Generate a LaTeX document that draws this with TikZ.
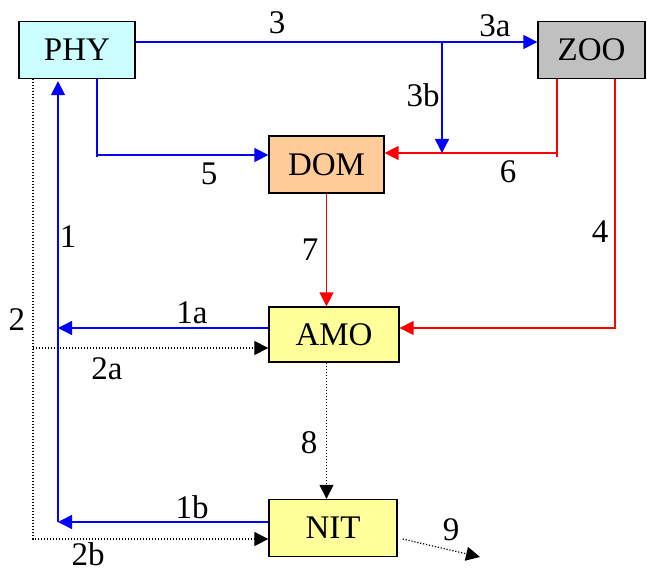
\documentclass[tikz,border=0pt]{standalone}
\usepackage{fontspec}
\setmainfont{Liberation Serif}
\usepackage{xcolor}
\definecolor{sbblue}{RGB}{0,0,255}
\definecolor{sbred}{RGB}{255,0,0}
\definecolor{sbcyan}{RGB}{204,255,255}
\definecolor{sbgray}{RGB}{192,192,192}
\definecolor{sbpeach}{RGB}{255,204,153}
\definecolor{sbyellow}{RGB}{255,255,153}
\usetikzlibrary{arrows.meta,positioning,calc}

\begin{document}
\begin{tikzpicture}[
  x=1pt, y=-1pt,
  sector/.style={
    rectangle, draw=black, line width=1.3pt,
    minimum height=57pt, inner sep=0pt,
    font=\fontsize{33}{37}\selectfont
  },
  tag/.style={font=\fontsize{33}{37}\selectfont, inner sep=0pt},
  flowblue/.style={-{Triangle[length=14pt,width=14pt]}, line width=1.4pt, draw=sbblue},
  flowred/.style={-{Triangle[length=14pt,width=14pt]}, line width=1.4pt, draw=sbred},
  flowdot/.style={-{Triangle[length=14pt,width=14pt]}, line width=1.2pt, draw=black,
    dash pattern=on 1.2pt off 1.8pt}
]
\useasboundingbox (0,0) rectangle (647,572);

\node[sector, fill=sbcyan,   minimum width=116pt] (phy) at (77,50)    {PHY};
\node[sector, fill=sbgray,   minimum width=107pt] (zoo) at (591.5,50) {ZOO};
\node[sector, fill=sbpeach,  minimum width=115pt] (dom) at (326.5,164.5) {DOM};
\node[sector, fill=sbyellow, minimum width=130pt, minimum height=55pt] (amo) at (334,334.5) {AMO};
\node[sector, fill=sbyellow, minimum width=128pt] (nit) at (333,528)   {NIT};

% junction points
\coordinate (j3)  at (442,42);
\coordinate (t3b) at (442,153);
\coordinate (k5)  at (97,155);
\coordinate (k6)  at (557,153);
\coordinate (k4)  at (615,328);
\coordinate (k1a) at (58,328);
\coordinate (k1b) at (58,522);
\coordinate (k2a) at (33,348);
\coordinate (k2b) at (33,539);
\coordinate (t9)  at (480,557);

% blue flows
\draw[flowblue] (j3 -| phy.east) -- (j3 -| zoo.west);
\draw[flowblue] (j3) -- (t3b);
\draw[flowblue] (k5 |- phy.south) -- ([yshift=-2pt]k5) (k5) -- (k5 -| dom.west);
\draw[flowblue] (k1a -| amo.west) -- (k1a);
\draw[flowblue] (k1b -| nit.west) -- (k1b);
\draw[flowblue] (k1b) -- ([yshift=-2pt]k1b |- phy.south);

% red flows
\draw[flowred] (k6 |- zoo.south) -- ([yshift=-4pt]k6) (k6) -- (k6 -| dom.east);
\draw[flowred] (k4 |- zoo.south) -- (k4) -- (k4 -| amo.east);
\draw[flowred] (dom.south) -- (dom.south |- amo.north);

% dotted flows
\draw[flowdot] (k2b |- phy.south) -- (k2b) -- (k2b -| nit.west);
\draw[flowdot] (k2a) -- (k2a -| amo.west);
\draw[flowdot] (dom.south |- amo.south) -- (dom.south |- nit.north);
\draw[flowdot] ([shift={(5,11)}]nit.east) -- (t9);

% labels
\node[tag] (l3)  at (277,23)  {3};
\node[tag] (l3a) at (495,26)  {3a};
\node[tag] (l3b) at (423,95)  {3b};
\node[tag] (l5)  at (209,174) {5};
\node[tag] (l6)  at (508,172) {6};
\node[tag] (l1)  at (68,237)  {1};
\node[tag] (l7)  at (310,250) {7};
\node[tag] (l4)  at (600,232) {4};
\node[tag] (l2)  at (17,320)  {2};
\node[tag] (l1a) at (192,313) {1a};
\node[tag] (l2a) at (107,369) {2a};
\node[tag] (l8)  at (309,443) {8};
\node[tag] (l1b) at (192,507) {1b};
\node[tag] (l2b) at (88,554)  {2b};
\node[tag] (l9)  at (451,530) {9};
\end{tikzpicture}
\end{document}
